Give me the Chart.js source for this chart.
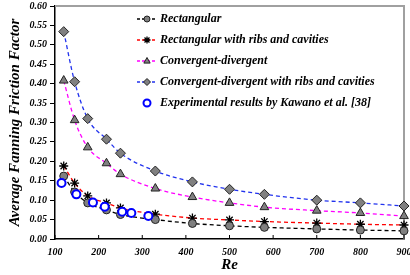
<!DOCTYPE html>
<html>
<head>
<meta charset="utf-8">
<script src="https://cdn.jsdelivr.net/npm/chart.js@4/dist/chart.umd.min.js"></script>
<style>
  html, body { margin: 0; padding: 0; background: #fff; }
  #wrap { width: 410px; height: 275px; }
</style>
</head>
<body>
<div id="wrap"><canvas id="myChart" width="410" height="275"></canvas></div>
<script>
// Reynolds numbers of the simulated cases
let reynolds = [120, 145, 175, 218, 250, 330, 415, 500, 580, 700, 800, 900];

// average Fanning friction factor of each channel
let rectangular = [0.162, 0.121, 0.093, 0.075, 0.063, 0.050, 0.040, 0.034, 0.030, 0.026, 0.023, 0.021];
let rectRibs = [0.188, 0.144, 0.111, 0.093, 0.080, 0.064, 0.054, 0.049, 0.045, 0.041, 0.038, 0.036];
let convDiv = [0.408, 0.306, 0.236, 0.195, 0.167, 0.130, 0.108, 0.093, 0.082, 0.073, 0.067, 0.059];
let convDivRibs = [0.534, 0.405, 0.310, 0.257, 0.221, 0.175, 0.147, 0.128, 0.115, 0.100, 0.093, 0.085];

// experimental points (Kawano et al.)
let expRe = [115, 149, 187, 214, 254, 275, 314];
let expF = [0.144, 0.115, 0.094, 0.083, 0.070, 0.067, 0.059];

let labels = ['Rectangular', 'Rectangular with ribs and cavities', 'Convergent-divergent',
    'Convergent-divergent with ribs and cavities', 'Experimental results by Kawano et al. [38]'];

const serif = "'Liberation Serif', 'Times New Roman', serif";

function pairs(xs, ys) {
    return xs.map((x, i) => ({x: x, y: ys[i]}));
}

function curve(label, values, color, style, radius) {
    return {
        label: label,
        data: pairs(reynolds, values),
        borderColor: color,
        borderWidth: 1.3,
        borderDash: [4, 3],
        cubicInterpolationMode: 'monotone',
        pointStyle: style,
        pointRadius: radius,
        pointBackgroundColor: '#808080',
        pointBorderColor: '#222',
        pointBorderWidth: 1,
        clip: false
    };
}

// small marker drawer for the legend
function marker(ctx, style, x, y, r, fill, stroke, lw) {
    ctx.save();
    ctx.fillStyle = fill; ctx.strokeStyle = stroke; ctx.lineWidth = lw;
    ctx.beginPath();
    if (style === 'circle') {
        ctx.arc(x, y, r, 0, Math.PI * 2);
    } else if (style === 'triangle') {
        ctx.moveTo(x, y - r); ctx.lineTo(x + r * 0.9, y + r * 0.6); ctx.lineTo(x - r * 0.9, y + r * 0.6); ctx.closePath();
    } else if (style === 'rectRot') {
        ctx.moveTo(x, y - r); ctx.lineTo(x + r, y); ctx.lineTo(x, y + r); ctx.lineTo(x - r, y); ctx.closePath();
    } else if (style === 'star') {
        for (let k = 0; k < 4; k++) {
            let a = k * Math.PI / 4;
            ctx.moveTo(x - r * Math.cos(a), y - r * Math.sin(a));
            ctx.lineTo(x + r * Math.cos(a), y + r * Math.sin(a));
        }
        ctx.stroke(); ctx.restore(); return;
    }
    if (fill) ctx.fill();
    ctx.stroke();
    ctx.restore();
}

//frame, inward x ticks and the legend inside the plot
const framePlugin = {
    id: 'frame',
    beforeDatasetsDraw(chart) {
        const {ctx, chartArea: a, scales} = chart;
        ctx.save();
        ctx.strokeStyle = '#a0a0a0';
        ctx.lineWidth = 2;
        ctx.beginPath();
        ctx.moveTo(a.left, a.top); ctx.lineTo(a.right, a.top); ctx.lineTo(a.right, a.bottom);
        ctx.stroke();
        ctx.strokeStyle = '#000';
        ctx.lineWidth = 1;
        ctx.beginPath();
        scales.x.ticks.forEach(t => {
            let px = scales.x.getPixelForValue(t.value);
            ctx.moveTo(px, a.bottom); ctx.lineTo(px, a.bottom - 4);
        });
        ctx.stroke();
        ctx.restore();
    },
    afterDraw(chart) {
        const ctx = chart.ctx;
        const x0 = 137, x1 = 157, tx = 160;
        const ys = [19, 40, 61, 82, 103];
        chart.data.datasets.forEach((ds, i) => {
            let y = ys[i];
            ctx.save();
            if (ds.showLine !== false) {
                ctx.strokeStyle = ds.borderColor;
                ctx.lineWidth = 1.3;
                ctx.setLineDash([3, 2]);
                ctx.beginPath(); ctx.moveTo(x0, y); ctx.lineTo(x1, y); ctx.stroke();
                ctx.setLineDash([]);
            }
            let fill = ds.pointBackgroundColor;
            marker(ctx, ds.pointStyle, (x0 + x1) / 2, y, ds.pointStyle === 'circle' && ds.showLine !== false ? 3 : 3.5,
                fill, ds.pointBorderColor, ds.pointBorderWidth);
            ctx.fillStyle = '#000';
            ctx.font = "italic bold 12px " + serif;
            ctx.textBaseline = 'middle';
            ctx.fillText(ds.label, tx, y);
            ctx.restore();
        });
    }
};

const chart = document.getElementById('myChart').getContext('2d');
const myChart = new Chart(chart, {
    type: 'line',
    data: {
        datasets: [
            curve(labels[0], rectangular, '#000000', 'circle', 4),
            Object.assign(curve(labels[1], rectRibs, '#ff0000', 'star', 4.5), {pointBorderColor: '#000', pointBorderWidth: 1.3}),
            curve(labels[2], convDiv, '#ff00ff', 'triangle', 5),
            curve(labels[3], convDivRibs, '#2233ee', 'rectRot', 5),
            {
                label: labels[4],
                data: pairs(expRe, expF),
                showLine: false,
                pointStyle: 'circle',
                pointRadius: 4,
                pointBackgroundColor: '#ffffff',
                pointBorderColor: '#0000ff',
                pointBorderWidth: 2,
                order: -1,
                clip: false
            }
        ]
    },
    options: {
        responsive: false,
        animation: false,
        layout: { padding: { top: 5, right: 3, left: 0, bottom: 0 } },
        plugins: {
            legend: { display: false },
            tooltip: { enabled: false }
        },
        scales: {
            x: {
                type: 'linear',
                min: 100,
                max: 900,
                ticks: {
                    stepSize: 100,
                    maxRotation: 0,
                    padding: 7,
                    color: '#000',
                    font: { family: serif, size: 10, style: 'italic', weight: 'bold' }
                },
                grid: { drawOnChartArea: false, drawTicks: false },
                border: { color: '#000', width: 1.5 },
                title: {
                    display: true,
                    text: 'Re',
                    color: '#000',
                    padding: { top: 0, bottom: 1 },
                    font: { family: serif, size: 15, style: 'italic', weight: 'bold' }
                },
                afterFit(scale) {
                    scale.height = 36;
                    scale.paddingLeft = 0;
                    scale.paddingRight = 0;
                }
            },
            y: {
                min: 0,
                max: 0.6,
                ticks: {
                    stepSize: 0.05,
                    padding: 3,
                    color: '#000',
                    callback: v => v.toFixed(2),
                    font: { family: serif, size: 10, style: 'italic', weight: 'bold' }
                },
                grid: { drawOnChartArea: false, tickLength: 5, color: '#000' },
                border: { color: '#000', width: 1.5 },
                title: {
                    display: true,
                    text: 'Average Fanning Friction Factor',
                    color: '#000',
                    padding: { top: 6, bottom: 0 },
                    font: { family: serif, size: 15, style: 'italic', weight: 'bold' }
                },
                afterFit(scale) {
                    scale.width = 55;
                    scale.paddingTop = 0;
                    scale.paddingBottom = 0;
                }
            }
        }
    },
    plugins: [framePlugin]
});
</script>
</body>
</html>
